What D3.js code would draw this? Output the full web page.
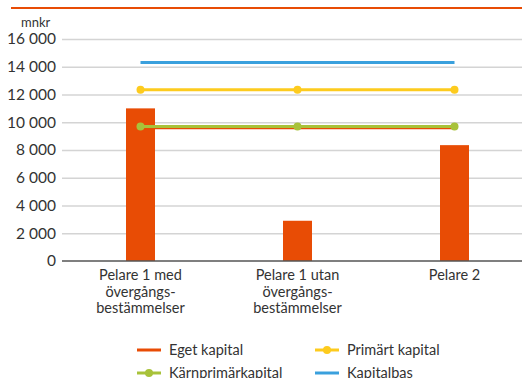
<!DOCTYPE html>
<html><head><meta charset="utf-8">
<script src="https://cdn.jsdelivr.net/npm/d3@7"></script>
<style>
body{margin:0;background:#fff;}
text{font-family:"Lato","Open Sans",sans-serif;fill:#333;}
</style></head>
<body><svg id="c" width="522" height="378"></svg>
<script>
const categories = [["Pelare 1 med","övergångs-","bestämmelser"],["Pelare 1 utan","övergångs-","bestämmelser"],["Pelare 2"]];
const egetKapitalBars = [11000, 2900, 8350];
const egetKapital = [9600, 9600, 9600];
const karnprimarkapital = [9700, 9700, 9700];
const primartKapital = [12350, 12350, 12350];
const kapitalbas = [14300, 14300, 14300];
const yTicks = [0,2000,4000,6000,8000,10000,12000,14000,16000];
const unitLabel = "mnkr";

const svg = d3.select("#c");
const x = d3.scaleBand().domain(d3.range(3)).range([62,533]);
const y = d3.scaleLinear().domain([0,16000]).range([261,39]);
const fmt = v => d3.format(",")(v).replace(/,/g," ");
const cx = i => x(i)+x.bandwidth()/2;

svg.append("line").attr("x1",11).attr("x2",522).attr("y1",8).attr("y2",8)
  .attr("stroke","#e84c05").attr("stroke-width",2);
svg.append("text").attr("x",21).attr("y",27).attr("font-size",13).text(unitLabel);

const ya = svg.append("g").attr("transform","translate(62,0)")
  .call(d3.axisLeft(y).tickValues(yTicks).tickFormat(fmt).tickSize(-470).tickPadding(6));
ya.select(".domain").remove();
ya.selectAll(".tick line").attr("stroke","#d4d4d4").attr("stroke-width",1.5)
  .filter(d=>d===0).attr("stroke","none");
ya.selectAll(".tick text").attr("font-size",15.5).attr("fill","#333");

svg.selectAll("rect.bar").data(egetKapitalBars).join("rect").attr("class","bar")
  .attr("x",(d,i)=>cx(i)-14.5).attr("width",29)
  .attr("y",d=>y(d)).attr("height",d=>y(0)-y(d)).attr("fill","#e84c05");

svg.append("line").attr("x1",62).attr("x2",522).attr("y1",y(0)).attr("y2",y(0))
  .attr("stroke","#555").attr("stroke-width",1.5);

const line = d3.line().x((d,i)=>cx(i)).y(d=>y(d));
const series = [
  {name:"Kapitalbas", data:kapitalbas, color:"#3aa0dd", marker:false},
  {name:"Primärt kapital", data:primartKapital, color:"#fdcb1e", marker:true},
  {name:"Eget kapital", data:egetKapital, color:"#e84c05", marker:false},
  {name:"Kärnprimärkapital", data:karnprimarkapital, color:"#a8c23a", marker:true}
];
series.forEach(s=>{
  svg.append("path").attr("d",line(s.data)).attr("fill","none")
    .attr("stroke",s.color).attr("stroke-width",3);
  if(s.marker) svg.selectAll(null).data(s.data).join("circle")
    .attr("cx",(d,i)=>cx(i)).attr("cy",d=>y(d)).attr("r",4).attr("fill",s.color);
});

categories.forEach((lines,i)=>{
  const t = svg.append("text").attr("text-anchor","middle").attr("font-size",14.5);
  lines.forEach((l,j)=>t.append("tspan").attr("x",cx(i)).attr("y",280+j*16.5).text(l));
});

const legend = [
  {name:"Eget kapital", color:"#e84c05", marker:false, x:137, y:350},
  {name:"Primärt kapital", color:"#fdcb1e", marker:true, x:315, y:350},
  {name:"Kärnprimärkapital", color:"#a8c23a", marker:true, x:137, y:373},
  {name:"Kapitalbas", color:"#3aa0dd", marker:false, x:315, y:373}
];
legend.forEach(l=>{
  svg.append("line").attr("x1",l.x).attr("x2",l.x+24).attr("y1",l.y).attr("y2",l.y)
    .attr("stroke",l.color).attr("stroke-width",3);
  if(l.marker) svg.append("circle").attr("cx",l.x+12).attr("cy",l.y).attr("r",4).attr("fill",l.color);
  svg.append("text").attr("x",l.x+32).attr("y",l.y+5).attr("font-size",14.5).text(l.name);
});
</script></body></html>
